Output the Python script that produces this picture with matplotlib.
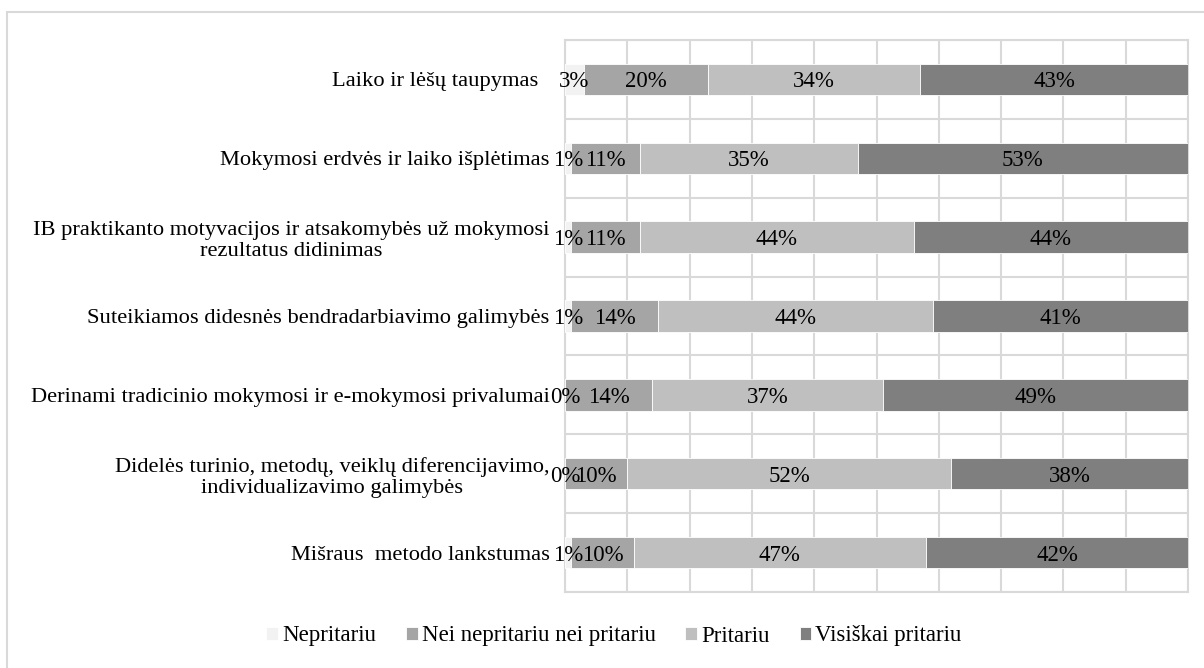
import numpy as np
import matplotlib
matplotlib.use("Agg")
import matplotlib.pyplot as plt
from matplotlib.patches import Rectangle

plt.rcParams['font.family'] = ['Liberation Serif', 'DejaVu Serif']

# Data (percent), categories from top to bottom
categories = [
    "Laiko ir lėšų taupymas  ",
    "Mokymosi erdvės ir laiko išplėtimas",
    "IB praktikanto motyvacijos ir atsakomybės už mokymosi\nrezultatus didinimas",
    "Suteikiamos didesnės bendradarbiavimo galimybės",
    "Derinami tradicinio mokymosi ir e-mokymosi privalumai",
    "Didelės turinio, metodų, veiklų diferencijavimo,\nindividualizavimo galimybės",
    "Mišraus  metodo lankstumas",
]
series_names = ["Nepritariu", "Nei nepritariu nei pritariu", "Pritariu", "Visiškai pritariu"]
nepritariu = [3, 1, 1, 1, 0, 0, 1]
nei = [20, 11, 11, 14, 14, 10, 10]
pritariu = [34, 35, 44, 44, 37, 52, 47]
visiskai = [43, 53, 44, 41, 49, 38, 42]
colors = ["#F2F2F2", "#A5A5A5", "#BFBFBF", "#7F7F7F"]

fig = plt.figure(figsize=(12.04, 6.68), dpi=100)
ax = fig.add_axes([565 / 1204, 1 - 592 / 668, (1188 - 565) / 1204, (592 - 40) / 668])

# outer chart frame (only left/top visible in the reference)
fig.patches.append(Rectangle((7 / 1204, -0.1), 1.2, 1.1 - 12 / 668, transform=fig.transFigure,
                             fill=False, edgecolor="#D9D9D9", linewidth=1.5))

y = np.arange(len(categories))
left = np.zeros(len(categories))
for name, vals, col in zip(series_names, [nepritariu, nei, pritariu, visiskai], colors):
    vals = np.array(vals, dtype=float)
    ax.barh(y, vals, left=left, height=0.4, color=col, edgecolor="white", linewidth=0.6,
            label=name, zorder=3)
    for yi, l, v in zip(y, left, vals):
        ax.text(l + v / 2, yi, f"{int(v)}%", ha="center", va="center_baseline",
                fontsize=16.5, zorder=4)
    left += vals

ax.set_xlim(0, 100)
ax.set_ylim(len(categories) - 0.5, -0.5)
ax.set_xticks(np.arange(0, 101, 10))
ax.set_xticklabels([])
ax.set_yticks(y)
ax.set_yticklabels(categories, fontsize=16.2, multialignment="center")
ax.set_yticks(np.arange(-0.5, len(categories), 1), minor=True)
ax.tick_params(axis="both", which="both", length=0)
ax.tick_params(axis="y", pad=11)
ax.grid(axis="x", which="major", color="#D9D9D9", linewidth=1.5, zorder=0)
ax.grid(axis="y", which="minor", color="#D9D9D9", linewidth=1.5, zorder=0)
for s in ax.spines.values():
    s.set_color("#D9D9D9")
    s.set_linewidth(1.5)

fig.legend(loc="center", bbox_to_anchor=(614 / 1204, 1 - 636 / 668), ncol=4, frameon=False,
           fontsize=16.5, handlelength=0.52, handleheight=0.52, handletextpad=0.17,
           columnspacing=1.3)

fig.savefig("out.png", dpi=100)
